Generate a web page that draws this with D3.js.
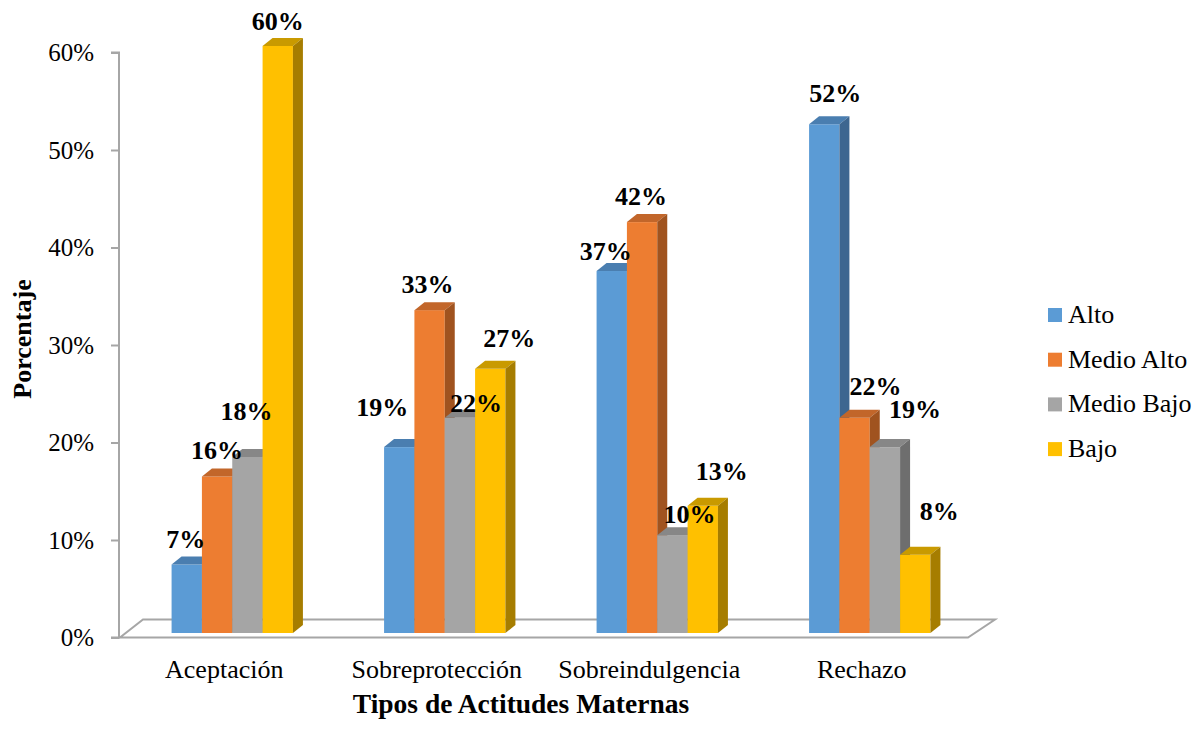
<!DOCTYPE html>
<html>
<head>
<meta charset="utf-8">
<script src="https://cdn.jsdelivr.net/npm/d3@7"></script>
</head>
<body style="margin:0;background:#fff">
<svg id="chart" width="1204" height="732"></svg>
<script>
// ---- data ----
const categories = ["Aceptación", "Sobreprotección", "Sobreindulgencia", "Rechazo"];
const seriesNames = ["Alto", "Medio Alto", "Medio Bajo", "Bajo"];
const alto      = [7, 19, 37, 52];
const medioAlto = [16, 33, 42, 22];
const medioBajo = [18, 22, 10, 19];
const bajo      = [60, 27, 13, 8];
const yTicks = [0, 10, 20, 30, 40, 50, 60];

// label nudges (layout only): [dx, dy] per series per category
const labelNudge = [
  [[-1,-17],[-17,-31],[-6,-11],[11,-22]],
  [[0,-17],[-2,-17],[-1,-17],[21,-23]],
  [[-1,-37],[16,-6],[17,-12],[30,-29]],
  [[0,-16],[19,-22],[19,-26],[24,-35]]
];

const seriesValues = [alto, medioAlto, medioBajo, bajo];
const colors = {
  face: ["#5B9BD5", "#ED7D31", "#A5A5A5", "#FFC000"],
  top:  ["#4A7EB0", "#C2662A", "#878787", "#C99A00"],
  side: ["#3D6690", "#A0531F", "#6E6E6E", "#A67D00"]
};

const FONT = "'Liberation Serif'";
const svg = d3.select("#chart");
const DX = 10, DY = 8;
const base = 633;

const yAxisScale = d3.scaleLinear().domain([0, 60]).range([637.5, 52.5]);
const yBar = d3.scaleLinear().domain([0, 60]).range([base, 46]);

const x0 = d3.scaleBand().domain(categories).range([126, 976])
  .paddingInner(0.429).paddingOuter(0.2145);
const x1 = d3.scaleBand().domain(seriesNames).range([0, x0.bandwidth()]);
const xLab = d3.scaleBand().domain(categories).range([118, 968]);

// floor
const floor = svg.append("g").attr("fill", "none").attr("stroke", "#A6A6A6").attr("stroke-width", 2);
floor.append("path").attr("d", "M120,637.5 L968,637.5 L995,619.5 L143,619.5 Z");

// y axis
const axisG = svg.append("g").attr("transform", "translate(119,0)")
  .call(d3.axisLeft(yAxisScale).tickValues(yTicks).tickSize(8).tickPadding(17)
    .tickFormat(d => d + "%"));
axisG.select(".domain").attr("stroke", "#A6A6A6").attr("stroke-width", 2)
  .attr("d", `M-8,${yAxisScale(60)}H0V${yAxisScale(0)}H-8`);
axisG.selectAll(".tick line").attr("stroke", "#A6A6A6").attr("stroke-width", 2);
axisG.selectAll(".tick text")
  .style("font-family", FONT).style("font-size", "25px").attr("fill", "#000");

// bars
const data = [];
categories.forEach((c, ci) => {
  seriesNames.forEach((s, si) => {
    data.push({c, ci, s, si, v: seriesValues[si][ci]});
  });
});

const barG = svg.append("g");
const bars = barG.selectAll("g.bar").data(data).join("g").attr("class", "bar");
bars.each(function(d) {
  const g = d3.select(this);
  const x = x0(d.c) + x1(d.s);
  const w = x1.bandwidth();
  const yt = yBar(d.v);
  g.append("rect").attr("x", x).attr("y", yt).attr("width", w).attr("height", base - yt)
    .attr("fill", colors.face[d.si]);
  g.append("path")
    .attr("d", `M${x},${yt} L${x + DX},${yt - DY} L${x + w + DX},${yt - DY} L${x + w},${yt} Z`)
    .attr("fill", colors.top[d.si]);
  g.append("path")
    .attr("d", `M${x + w},${yt} L${x + w + DX},${yt - DY} L${x + w + DX},${base - DY} L${x + w},${base} Z`)
    .attr("fill", colors.side[d.si]);
});

// data labels
svg.append("g").selectAll("text").data(data).join("text")
  .attr("x", d => x0(d.c) + x1(d.s) + x1.bandwidth() / 2 + labelNudge[d.si][d.ci][0])
  .attr("y", d => yBar(d.v) + labelNudge[d.si][d.ci][1])
  .attr("text-anchor", "middle")
  .style("font-family", FONT).style("font-size", "26px").style("font-weight", "bold")
  .text(d => d.v + "%");

// category labels
svg.append("g").selectAll("text").data(categories).join("text")
  .attr("x", d => xLab(d) + xLab.bandwidth() / 2)
  .attr("y", 678)
  .attr("text-anchor", "middle")
  .style("font-family", FONT).style("font-size", "26px")
  .text(d => d);

// axis titles
svg.append("text").attr("x", 521).attr("y", 713).attr("text-anchor", "middle")
  .style("font-family", FONT).style("font-size", "27.5px").style("font-weight", "bold")
  .text("Tipos de Actitudes Maternas");
svg.append("text").attr("transform", "translate(31,339) rotate(-90)")
  .attr("text-anchor", "middle")
  .style("font-family", FONT).style("font-size", "26px").style("font-weight", "bold")
  .text("Porcentaje");

// legend
const legend = svg.append("g").selectAll("g").data(seriesNames).join("g")
  .attr("transform", (d, i) => `translate(1048, ${315 + i * 44.7})`);
legend.append("rect").attr("x", 0).attr("y", -7).attr("width", 14).attr("height", 14)
  .attr("fill", (d, i) => colors.face[i]);
legend.append("text").attr("x", 20).attr("y", 8)
  .style("font-family", FONT).style("font-size", "26px").text(d => d);
</script>
</body>
</html>
